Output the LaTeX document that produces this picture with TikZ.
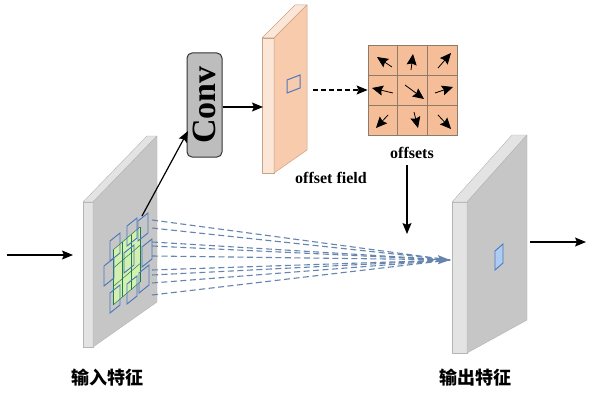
\documentclass[tikz,border=0pt]{standalone}
\usepackage{fontspec}
\setmainfont{Liberation Serif}
\newfontfamily\cjk{Noto Sans CJK SC}
\usetikzlibrary{arrows.meta}
\definecolor{panelface}{HTML}{C6C6C6}
\definecolor{panelside}{HTML}{E3E3E3}
\definecolor{paneledge}{HTML}{B4B4B4}
\definecolor{fieldface}{HTML}{F8CBAD}
\definecolor{fieldside}{HTML}{FCE6D8}
\definecolor{fieldedge}{HTML}{C9A283}
\definecolor{gridfill}{HTML}{F5BE98}
\definecolor{gridline}{HTML}{8C7A6A}
\definecolor{samp}{HTML}{4A78C0}
\definecolor{sampfill}{HTML}{AECBF2}
\definecolor{sampgreen}{HTML}{D4F0AE}
\definecolor{dashc}{HTML}{6585AE}
\definecolor{convfill}{HTML}{BDBDBD}
\begin{document}
\begin{tikzpicture}[x=1pt,y=-1pt,
  arr/.style={-{Stealth[length=11pt,width=9pt,inset=2pt]}, line width=1.2pt},
  cellarr/.style={-{Stealth[length=11pt,width=10pt,inset=1.5pt]}, line width=0.8pt},
  sidest/.style={fill=panelside, draw=paneledge, line width=0.4pt, line join=round},
  facest/.style={fill=panelface, draw=paneledge, line width=0.4pt, line join=round},
  fsidest/.style={fill=fieldside, draw=fieldedge, line width=0.5pt, line join=round},
  ffacest/.style={fill=fieldface, draw=fieldedge, line width=0.5pt, line join=round},
  sampst/.style={draw=samp, line width=0.9pt},
  dashst/.style={draw=dashc, line width=1.1pt, dash pattern=on 6pt off 3.5pt},
  convbox/.style={draw=black!80, fill=convfill, rounded corners=5pt, line width=1pt,
     minimum width=35pt, minimum height=104pt, inner sep=0pt},
  lab/.style={font=\bfseries\fontsize{16}{18}\selectfont, inner sep=0pt},
  cjklab/.style={font=\cjk\bfseries\fontsize{18}{20}\selectfont, inner sep=0pt}
]
\useasboundingbox (0,0) rectangle (596,393);

% ---------- input feature slab ----------
\fill[white] (0,0) rectangle (596,393);
\path[sidest] (83,202) -- (93,202) -- (93,347) -- (83,347) -- cycle;
\path[sidest] (83,202) -- (147,136) -- (157,136) -- (93,202) -- cycle;
\path[facest] (93,202) -- (157,136) -- (157,302) -- (93,347) -- cycle;

% regular grid (green)
\fill[sampgreen] (113,250) -- (140,227) -- (140,282) -- (113,305) -- cycle;
\foreach \i in {0,1,2,3}{
  \draw[samp!60!green!70!black, line width=0.5pt] (113+9*\i,250-7.67*\i) -- ++(0,55);
  \draw[samp!60!green!70!black, line width=0.5pt] (113,250+18.33*\i) -- ++(27,-23);
}
% deformed sampling locations
\foreach \cx/\cy in {132/232,143/227,115/247,129/259,147/253,109/272,144/279,115/299,132/290}{
  \draw[sampst] (\cx-5,\cy-6) -- ++(10,-8) -- ++(0,20) -- ++(-10,8) -- cycle;
}

% ---------- output feature slab ----------
\path[sidest] (452,202) -- (467,202) -- (467,353) -- (452,353) -- cycle;
\path[sidest] (452,202) -- (512,135) -- (527,135) -- (467,202) -- cycle;
\path[facest] (467,202) -- (527,135) -- (527,320) -- (467,353) -- cycle;
\draw[draw=samp, fill=sampfill, line width=0.9pt] (495,251) -- (503,244) -- (503,263) -- (495,270) -- cycle;

% ---------- offset field slab ----------
\path[fsidest] (262,38) -- (274,38) -- (274,173) -- (262,173) -- cycle;
\path[fsidest] (262,38) -- (295,5) -- (307,5) -- (274,38) -- cycle;
\path[ffacest] (274,38) -- (307,5) -- (307,150) -- (274,173) -- cycle;
\draw[samp, line width=1pt] (287,80) -- (300,75) -- (300,88) -- (287,93) -- cycle;

% ---------- Conv ----------
\node[convbox] (conv) at (204.5,105) {\rotatebox{90}{\bfseries\fontsize{34}{34}\selectfont Conv}};

% ---------- offsets grid ----------
\node[draw=gridline, fill=gridfill, line width=0.8pt, minimum width=89pt, minimum height=90pt, inner sep=0pt] (grid) at (412.5,90) {};
\draw[gridline, line width=0.8pt] (397.7,45) -- (397.7,135) (427.3,45) -- (427.3,135)
  (368,75) -- (457,75) (368,105) -- (457,105);
\foreach \ax/\ay/\bx/\by in {392/67/377/57, 411/70/413/54, 438/68/451/53,
  393/93/372/88, 405/85/424/99, 435/93/453/87,
  388/115/376/128, 414/112/418/128, 438/115/451/129}{
  \draw[cellarr] (\ax,\ay) -- (\bx,\by);
}

% ---------- labels ----------
\node[lab] (offl) at (412,153) {offsets};
\node[lab] (fieldl) at (331,178) {offset field};
\node[cjklab] (inl) at (107,378) {输入特征};
\node[cjklab] (outl) at (475,378) {输出特征};

% ---------- coordinates ----------
\coordinate (inarrS) at (7,255);
\coordinate (inarrE) at (73,255);
\coordinate (outarrS) at (530,242);
\coordinate (outarrE) at (586,242);
\coordinate (convsrc) at (142,216);
\coordinate (convin) at (188,131);
\coordinate (fieldin) at (263,107);
\coordinate (fieldout) at (313,90);
\coordinate (downS) at (407,165);
\coordinate (downE) at (407,234);
\coordinate (tgt) at (450,260);

% ---------- connectors ----------
\draw[arr] (inarrS) -- (inarrE);
\draw[arr] (outarrS) -- (outarrE);
\draw[arr] (convsrc) -- (convin);
\draw[arr] (conv.east |- fieldin) -- (fieldin);
\draw[arr, dash pattern=on 5pt off 3pt] (fieldout) -- (grid.west);
\draw[arr] (downS) -- (downE);

% dashed sampling lines
\foreach \sy in {220,228,242,246,270,275,283,295}{
  \draw[dashst] (152,\sy) -- (tgt);
}
\draw[dashst, -{Stealth[length=12pt,width=9pt,inset=2pt]}, solid] (432,259.6) -- (tgt);
\draw[dashst] (152,256) -- (434,259.6);
\end{tikzpicture}
\end{document}
